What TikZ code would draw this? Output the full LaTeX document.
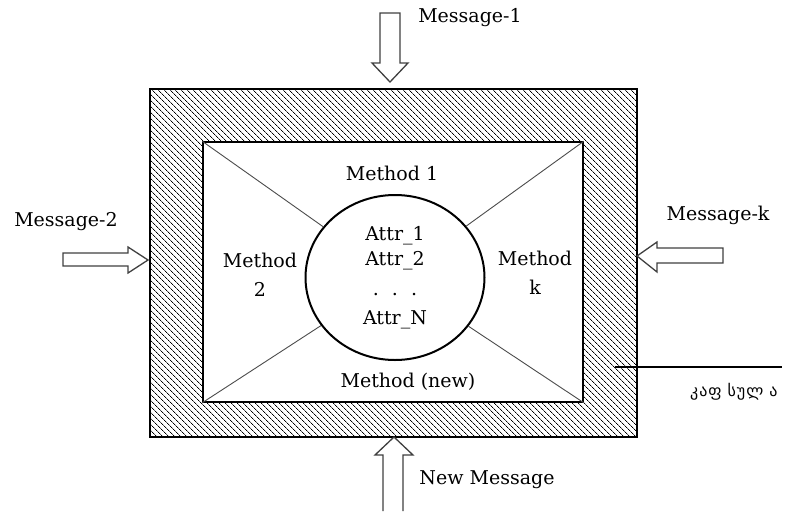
\documentclass[tikz,border=0pt]{standalone}
\usepackage{fontspec}
\setmainfont{DejaVu Serif}
\newfontfamily\geofont[LetterSpace=6]{DejaVu Sans}
\usetikzlibrary{shapes.geometric,patterns.meta}

\tikzset{
	wall/.style={draw,line width=1.4pt,inner sep=0pt,
		pattern={Lines[angle=-45,distance=4pt,line width=0.7pt]}},
	core/.style={draw,line width=1.4pt,fill=white,inner sep=0pt},
	msg/.style={font=\fontsize{19}{23}\selectfont},
	fat/.style={draw=black!75,line width=1.3pt,fill=white},
	spoke/.style={draw=black!70,line width=0.9pt}}

\begin{document}
\begin{tikzpicture}[x=1pt,y=-1pt]
	\useasboundingbox (0,0) rectangle (795,512);
	% capsule
	\node[wall,minimum width=487pt,minimum height=348pt](wall) at (393.5,263){};
	\node[core,minimum width=380pt,minimum height=260pt](room) at (393,272){};
	\node[ellipse,draw,line width=2pt,fill=white,inner sep=0pt,
		minimum width=179pt,minimum height=165pt,align=center,
		font=\fontsize{19}{25}\selectfont](attrs) at (395,277.5)
		{Attr\_1\\Attr\_2\\[5pt].\hspace{13pt}.\hspace{13pt}.\\[4pt]Attr\_N};
	\draw[spoke](room.north west)--(attrs);
	\draw[spoke](room.north east)--(attrs);
	\draw[spoke](room.south west)--(attrs);
	\draw[spoke](room.south east)--(attrs);
	\node[msg](m1) at (392,173){Method 1};
	\node[msg,align=center,font=\fontsize{19}{29}\selectfont](m2) at (260,275){Method\\2};
	\node[msg,align=center,font=\fontsize{19}{29}\selectfont](mk) at (535,273){Method\\k};
	\node[msg](mnew) at (408,382){Method (new)};
	% messages
	\coordinate(in1) at (390,82);
	\coordinate(in2) at (148,260);
	\coordinate(ink) at (637,256);
	\coordinate(innew) at (394,437);
	\draw[fat](in1)-- ++(-18,-19)-- ++(8,0)-- ++(0,-50)-- ++(20,0)-- ++(0,50)-- ++(8,0)--cycle;
	\draw[fat](in2)-- ++(-20,-13)-- ++(0,6)-- ++(-65,0)-- ++(0,13)-- ++(65,0)-- ++(0,7)--cycle;
	\draw[fat](ink)-- ++(20,-14)-- ++(0,6)-- ++(66,0)-- ++(0,15)-- ++(-66,0)-- ++(0,9)--cycle;
	\draw[fat](innew) ++(-11,74)-- ++(0,-56)-- ++(-8,0)--(innew)-- ++(19,18)-- ++(-10,0)-- ++(0,56);
	\node[msg](t1) at (470,18){Message-1};
	\node[msg](t2) at (66,222){Message-2};
	\node[msg](tk) at (718,215){Message-k};
	\node[msg](tnew) at (487,480){New Message};
	% label of the wall
	\coordinate(tagfoot) at (615,367);
	\coordinate(tagend) at (782,367);
	\draw[line width=1.2pt](tagfoot)--(tagend);
	\node[anchor=west,inner sep=0pt,font=\geofont\fontsize{16}{18}\selectfont](capsule) at (690,392){კაფ სულ ა};
\end{tikzpicture}
\end{document}
